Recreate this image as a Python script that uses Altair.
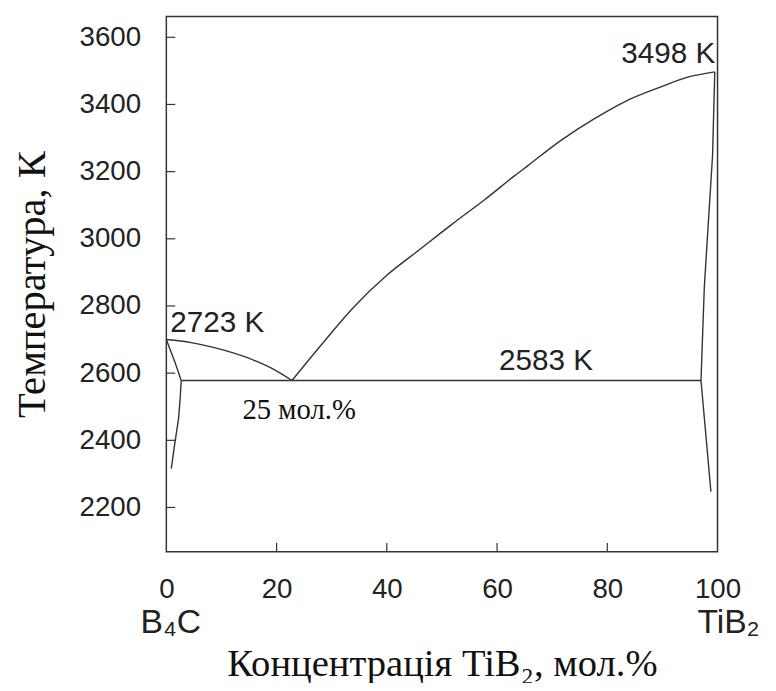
import altair as alt
import pandas as pd

# ---- data ----
liq_left_x = [0.0, 4.5, 8.7, 14.7, 19.5, 22.8]
liq_left_T = [2700, 2691, 2676, 2646, 2611, 2578]

liq_right_x = [22.8, 27.9, 33.9, 39.9, 45.8, 51.8, 57.8, 63.2, 65.6, 71.6, 77.6, 83.5, 89.5, 94.3, 99.5]
liq_right_T = [2578, 2680, 2795, 2890, 2966, 3043, 3117, 3188, 3218, 3293, 3357, 3411, 3451, 3480, 3497]

eut_x = [2.7, 97.0]
eut_T = [2578, 2578]

sol_left_x = [0.0, 1.6, 2.7, 2.5, 2.2, 1.4, 0.9]
sol_left_T = [2700, 2631, 2578, 2522, 2463, 2375, 2316]

sol_right_x = [99.5, 99.1, 97.6, 97.0, 98.8]
sol_right_T = [3497, 3249, 2856, 2578, 2247]

y_ticks = [2200, 2400, 2600, 2800, 3000, 3200, 3400, 3600]
x_ticks = [0, 20, 40, 60, 80, 100]
x_inner_ticks = [20, 40, 60, 80]

ann_sans_text = ["2723 K", "2583 K", "3498 K"]
ann_sans_x = [0.7, 68.9, 99.6]
ann_sans_T = [2723, 2610, 3524]
ann_sans_align = ["left", "center", "right"]

ann_serif_text = ["25 мол.%"]
ann_serif_x = [24.1]
ann_serif_T = [2462]

end_text = ["B₄C", "TiB₂"]
end_x = [0.8, 102.0]

W, H = 557, 541
X_DOMAIN = [0, 100]
Y_DOMAIN = [2068, 3662]

rows = []
for name, xs_, ts_ in [("liq_left", liq_left_x, liq_left_T),
                       ("liq_right", liq_right_x, liq_right_T)]:
    for i, (xv, tv) in enumerate(zip(xs_, ts_)):
        rows.append({"series": name, "order": i, "x": xv, "T": tv})
smooth_df = pd.DataFrame(rows)

rows = []
for name, xs_, ts_ in [("eut", eut_x, eut_T),
                       ("sol_left", sol_left_x, sol_left_T),
                       ("sol_right", sol_right_x, sol_right_T)]:
    for i, (xv, tv) in enumerate(zip(xs_, ts_)):
        rows.append({"series": name, "order": i, "x": xv, "T": tv})
straight_df = pd.DataFrame(rows)

xs = alt.Scale(domain=X_DOMAIN, nice=False, zero=False)
ys = alt.Scale(domain=Y_DOMAIN, nice=False, zero=False)

x_axis = alt.Axis(values=x_ticks, ticks=False, domain=False, grid=False, format="d",
                  labelFont="Liberation Sans", labelFontSize=28, labelColor="#222",
                  labelPadding=24, labelFlush=False,
                  title="Концентрація TiB₂, мол.%", titleFont="Liberation Serif",
                  titleFontSize=39, titleFontWeight="normal", titleColor="#111",
                  titlePadding=42)
y_axis = alt.Axis(values=y_ticks, ticks=False, domain=False, grid=False, format="d",
                  labelFont="Liberation Sans", labelFontSize=28, labelColor="#222",
                  labelPadding=26, labelFlush=False,
                  title="Температура, К", titleFont="Liberation Serif",
                  titleFontSize=41, titleFontWeight="normal", titleColor="#111",
                  titlePadding=26)

smooth = alt.Chart(smooth_df).mark_line(color="#333", strokeWidth=1.4, interpolate="monotone").encode(
    x=alt.X("x:Q", scale=xs, axis=x_axis),
    y=alt.Y("T:Q", scale=ys, axis=y_axis),
    detail="series:N",
    order="order:Q",
)
straight = alt.Chart(straight_df).mark_line(color="#333", strokeWidth=1.4).encode(
    x=alt.X("x:Q", scale=xs),
    y=alt.Y("T:Q", scale=ys),
    detail="series:N",
    order="order:Q",
)

yt_df = pd.DataFrame({"T": y_ticks})
ytick = alt.Chart(yt_df).mark_rule(color="#333", strokeWidth=1.2).encode(
    y=alt.Y("T:Q", scale=ys),
    x=alt.value(0), x2=alt.value(9),
)
xt_df = pd.DataFrame({"x": x_inner_ticks})
xtick = alt.Chart(xt_df).mark_rule(color="#333", strokeWidth=1.2).encode(
    x=alt.X("x:Q", scale=xs),
    y=alt.value(H), y2=alt.value(H - 9),
)

sans_df = pd.DataFrame({"text": ann_sans_text, "x": ann_sans_x, "T": ann_sans_T, "align": ann_sans_align})
sans_layers = []
for al in ["left", "center", "right"]:
    sub = sans_df[sans_df["align"] == al]
    sans_layers.append(
        alt.Chart(sub).mark_text(font="Liberation Sans", fontSize=30, color="#222",
                                 align=al, baseline="alphabetic").encode(
            x=alt.X("x:Q", scale=xs), y=alt.Y("T:Q", scale=ys), text="text:N")
    )

serif_df = pd.DataFrame({"text": ann_serif_text, "x": ann_serif_x, "T": ann_serif_T})
serif = alt.Chart(serif_df).mark_text(font="Liberation Serif", fontSize=29, color="#111",
                                      align="center", baseline="alphabetic").encode(
    x=alt.X("x:Q", scale=xs), y=alt.Y("T:Q", scale=ys), text="text:N")

end_df = pd.DataFrame({"text": end_text, "x": end_x})
ends = alt.Chart(end_df).mark_text(font="Liberation Sans", fontSize=34, color="#222",
                                   align="center", baseline="alphabetic").encode(
    x=alt.X("x:Q", scale=xs), y=alt.value(H + 82), text="text:N")

chart = alt.layer(smooth, straight, ytick, xtick, *sans_layers, serif, ends).properties(
    width=W, height=H,
    background="white",
    autosize=alt.AutoSizeParams(type="none"),
    padding={"left": 160, "top": 5, "right": 51, "bottom": 129},
).configure_view(stroke="#333", strokeWidth=1.5)

chart.save("out.html", embed_options={"renderer": "svg", "actions": False})
